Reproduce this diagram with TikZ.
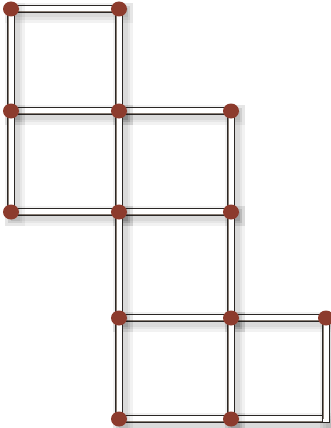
\documentclass[tikz,border=0pt]{standalone}
\usetikzlibrary{calc}
\definecolor{stickEdge}{HTML}{2B2725}
\definecolor{stickTan}{HTML}{877D74}
\definecolor{matchHead}{HTML}{8C3B2D}
\tikzset{
  stickshade/.style={line width=#1, draw=black, opacity=0.05, line cap=rect},
  stickbody/.style={line width=7.6pt, draw=stickEdge, line cap=rect},
  stickcore/.style={line width=5.8pt, draw=white, line cap=rect},
  sticktan/.style={line width=1.2pt, draw=stickTan},
  matchhead/.style={fill=matchHead, draw=none},
}
% one match between two grid points, #3 = offset of the tan edge
\newcommand\matchstick[3]{%
  \foreach \w in {20,14,9} {\draw[stickshade=\w pt] ($(#1)+(4,4)$) -- ($(#2)+(4,4)$);}
  \draw[stickbody] (#1) -- (#2);
  \draw[stickcore] (#1) -- (#2);
  \draw[sticktan] ($(#1)+#3$) -- ($(#2)+#3$);
}
\begin{document}
\begin{tikzpicture}[x=1pt, y=-1pt]
  \useasboundingbox (0,0) rectangle (331,428);
  % grid of corners
  \foreach \c/\x in {0/11, 1/119, 2/231, 3/326} {
    \foreach \r/\y in {0/9, 1/111, 2/212, 3/318, 4/419} {
      \coordinate (g-\c-\r) at (\x,\y);
    }
  }
  % horizontal matches
  \foreach \a/\b in {g-0-0/g-1-0, g-0-1/g-1-1, g-1-1/g-2-1, g-0-2/g-1-2, g-1-2/g-2-2,
                     g-1-3/g-2-3, g-2-3/g-3-3, g-1-4/g-2-4, g-2-4/g-3-4} {
    \matchstick{\a}{\b}{(0,2.5)}
  }
  % vertical matches
  \foreach \a/\b in {g-0-0/g-0-1, g-0-1/g-0-2, g-1-0/g-1-1, g-1-1/g-1-2, g-1-2/g-1-3,
                     g-1-3/g-1-4, g-2-1/g-2-2, g-2-2/g-2-3, g-2-3/g-2-4, g-3-3/g-3-4} {
    \matchstick{\a}{\b}{(-2.5,0)}
  }
  % heads
  \foreach \p in {g-0-0, g-1-0, g-0-1, g-1-1, g-2-1, g-0-2, g-1-2, g-2-2,
                  g-1-3, g-2-3, g-3-3, g-1-4, g-2-4} {
    \fill[matchhead] (\p) ellipse [x radius=8, y radius=7.5];
  }
\end{tikzpicture}
\end{document}
